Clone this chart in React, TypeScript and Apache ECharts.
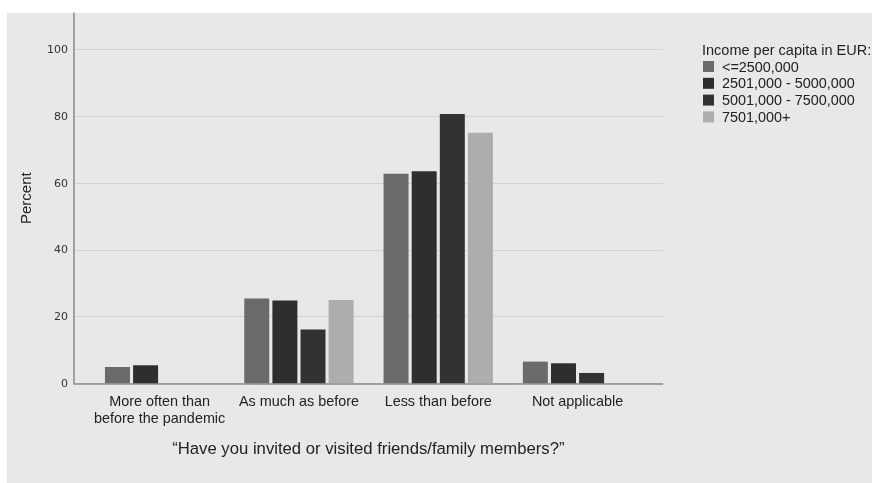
import React, { useEffect, useRef } from "react";
import * as echarts from "echarts";

const categories = ["More often than\nbefore the pandemic", "As much as before", "Less than before", "Not applicable"];
const seriesNames = ["<=2500,000", "2501,000 - 5000,000", "5001,000 - 7500,000", "7501,000+"];
const incomeLow = [4.9, 25.4, 62.8, 6.5];
const incomeMid = [5.4, 24.8, 63.6, 6.0];
const incomeHigh = [null, 16.1, 80.7, 3.1];
const incomeTop = [null, 25.0, 75.1, null];
const seriesColors = ["#6a6a6a", "#2e2e2e", "#323232", "#adadad"];
const yTicks = [0, 20, 40, 60, 80, 100];

export default function App() {
  const ref = useRef<HTMLDivElement>(null);
  useEffect(() => {
    if (!ref.current) return;
    const chart = echarts.init(ref.current, null, { renderer: "svg" });
    const values = [incomeLow, incomeMid, incomeHigh, incomeTop];
    const font = "Liberation Sans, Arial, sans-serif";
    chart.setOption({
      animation: false,
      graphic: [
        { type: "rect", z: -100, shape: { x: 7, y: 13, width: 865, height: 470 }, style: { fill: "#e8e8e8" } },
        {
          type: "text", left: 702, top: 42,
          style: { text: "Income per capita in EUR:", fill: "#222", font: `14.5px ${font}` },
        },
      ],
      legend: {
        left: 703, top: 59.5, orient: "vertical", icon: "rect", itemWidth: 11, itemHeight: 11, itemGap: 2.8,
        padding: 0,
        textStyle: { fontFamily: font, fontSize: 14.4, color: "#222", padding: [0, 0, 0, 3] },
        data: seriesNames,
      },
      grid: [
        { left: 74, top: 13, width: 588.7, height: 370.3 },
        { left: 90, top: 13, width: 557.2, height: 370.3 },
      ],
      xAxis: [
        {
          type: "value", gridIndex: 0, min: 0, max: 1,
          axisLine: { show: true, lineStyle: { color: "#8a8a8a", width: 1.5 } },
          axisTick: { show: false }, axisLabel: { show: false }, splitLine: { show: false },
          name: "\u201cHave you invited or visited friends/family members?\u201d",
          nameLocation: "middle", nameGap: 57,
          nameTextStyle: { fontFamily: font, fontSize: 16.7, color: "#222" },
        },
        {
          type: "category", gridIndex: 1, data: categories,
          axisLine: { show: false }, axisTick: { show: false },
          axisLabel: { fontFamily: font, fontSize: 14.4, color: "#222", margin: 9, lineHeight: 17, interval: 0 },
        },
      ],
      yAxis: [
        {
          type: "value", gridIndex: 0, min: 0, max: 111, interval: 20,
          axisLine: { show: true, lineStyle: { color: "#8a8a8a", width: 1.5 } },
          axisTick: { show: false },
          axisLabel: {
            fontFamily: "DejaVu Sans, sans-serif", fontSize: 11, color: "#333", margin: 6,
            formatter: (v: number) => (yTicks.includes(v) ? String(v) : ""),
          },
          splitLine: { show: true, showMaxLine: false, lineStyle: { color: "#d2d2d2", width: 1 } },
          name: "Percent", nameLocation: "middle", nameGap: 41,
          nameTextStyle: { fontFamily: font, fontSize: 15, color: "#222" },
        },
        { type: "value", gridIndex: 1, min: 0, max: 111, show: false },
      ],
      series: seriesNames.map((name, i) => ({
        name, type: "bar", xAxisIndex: 1, yAxisIndex: 1,
        data: values[i], barWidth: 25, barGap: "12.5%",
        itemStyle: { color: seriesColors[i] },
      })),
    });
    return () => chart.dispose();
  }, []);
  return <div ref={ref} style={{ position: "fixed", left: 0, top: 0, width: 872, height: 483 }} />;
}
